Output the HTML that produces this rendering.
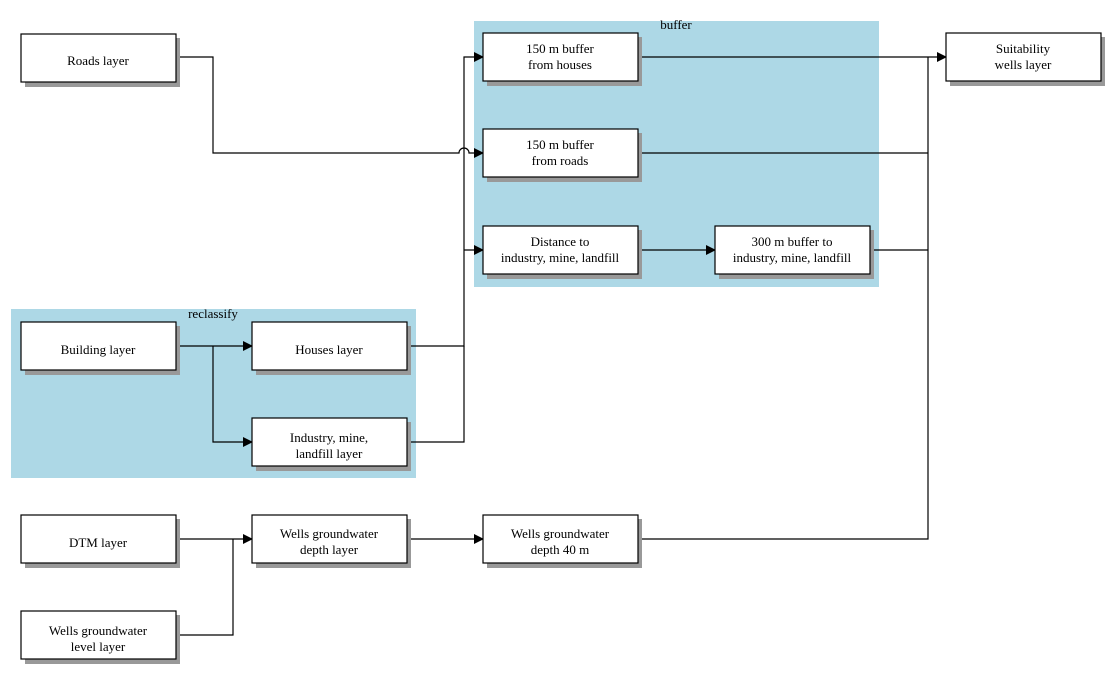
<!DOCTYPE html>
<html><head><meta charset="utf-8"><style>
html,body{margin:0;padding:0;background:#fff;}
svg{display:block;font-family:"Liberation Serif",serif;font-size:13px;}
</style></head><body>
<svg width="1113" height="677" viewBox="0 0 1113 677" xmlns="http://www.w3.org/2000/svg">
<defs><marker id="a" markerWidth="10" markerHeight="10" refX="9" refY="5" orient="auto" markerUnits="userSpaceOnUse"><path d="M0,0 L10,5 L0,10 z" fill="#000"/></marker></defs>
<rect x="474" y="21" width="405" height="266" fill="#add8e6"/>
<rect x="11" y="309" width="405" height="169" fill="#add8e6"/>
<text x="676" y="29" text-anchor="middle">buffer</text>
<text x="213" y="318" text-anchor="middle">reclassify</text>
<g fill="none" stroke="#000" stroke-width="1.2">
<path d="M176,57 H213 V153 H459 A5,5 0 0 1 469,153 H483" marker-end="url(#a)"/>
<path d="M407,346 H464 V57 H483" marker-end="url(#a)"/>
<path d="M407,442 H464 V346"/>
<path d="M464,250 H483" marker-end="url(#a)"/>
<path d="M176,346 H252" marker-end="url(#a)"/>
<path d="M213,346 V442 H252" marker-end="url(#a)"/>
<path d="M638,250 H715" marker-end="url(#a)"/>
<path d="M638,57 H946" marker-end="url(#a)"/>
<path d="M638,153 H928"/>
<path d="M870,250 H928"/>
<path d="M638,539 H928 V57"/>
<path d="M176,539 H252" marker-end="url(#a)"/>
<path d="M176,635 H233 V539"/>
<path d="M407,539 H483" marker-end="url(#a)"/>
</g>
<g id="boxes">
<g fill="#999">
<rect x="25" y="38" width="155" height="49"/><rect x="487" y="37" width="155" height="49"/>
<rect x="487" y="133" width="155" height="49"/><rect x="487" y="230" width="155" height="49"/>
<rect x="719" y="230" width="155" height="49"/><rect x="950" y="37" width="155" height="49"/>
<rect x="25" y="326" width="155" height="49"/><rect x="256" y="326" width="155" height="49"/>
<rect x="256" y="422" width="155" height="49"/><rect x="25" y="519" width="155" height="49"/>
<rect x="25" y="615" width="155" height="49"/><rect x="256" y="519" width="155" height="49"/>
<rect x="487" y="519" width="155" height="49"/>
</g>
<g fill="#fff" stroke="#000" stroke-width="1.2">
<rect x="21" y="34" width="155" height="48"/><rect x="483" y="33" width="155" height="48"/>
<rect x="483" y="129" width="155" height="48"/><rect x="483" y="226" width="155" height="48"/>
<rect x="715" y="226" width="155" height="48"/><rect x="946" y="33" width="155" height="48"/>
<rect x="21" y="322" width="155" height="48"/><rect x="252" y="322" width="155" height="48"/>
<rect x="252" y="418" width="155" height="48"/><rect x="21" y="515" width="155" height="48"/>
<rect x="21" y="611" width="155" height="48"/><rect x="252" y="515" width="155" height="48"/>
<rect x="483" y="515" width="155" height="48"/>
</g>
</g>
<g text-anchor="middle">
<text x="98" y="65">Roads layer</text>
<text x="560" y="53">150 m buffer</text><text x="560" y="69">from houses</text>
<text x="560" y="149">150 m buffer</text><text x="560" y="165">from roads</text>
<text x="560" y="246">Distance to</text><text x="560" y="262">industry, mine, landfill</text>
<text x="792" y="246">300 m buffer to</text><text x="792" y="262">industry, mine, landfill</text>
<text x="1023" y="53">Suitability</text><text x="1023" y="69">wells layer</text>
<text x="98" y="354">Building layer</text>
<text x="329" y="354">Houses layer</text>
<text x="329" y="442">Industry, mine,</text><text x="329" y="458">landfill layer</text>
<text x="98" y="547">DTM layer</text>
<text x="98" y="635">Wells groundwater</text><text x="98" y="651">level layer</text>
<text x="329" y="538">Wells groundwater</text><text x="329" y="554">depth layer</text>
<text x="560" y="538">Wells groundwater</text><text x="560" y="554">depth 40 m</text>
</g>
</svg>
</body></html>
